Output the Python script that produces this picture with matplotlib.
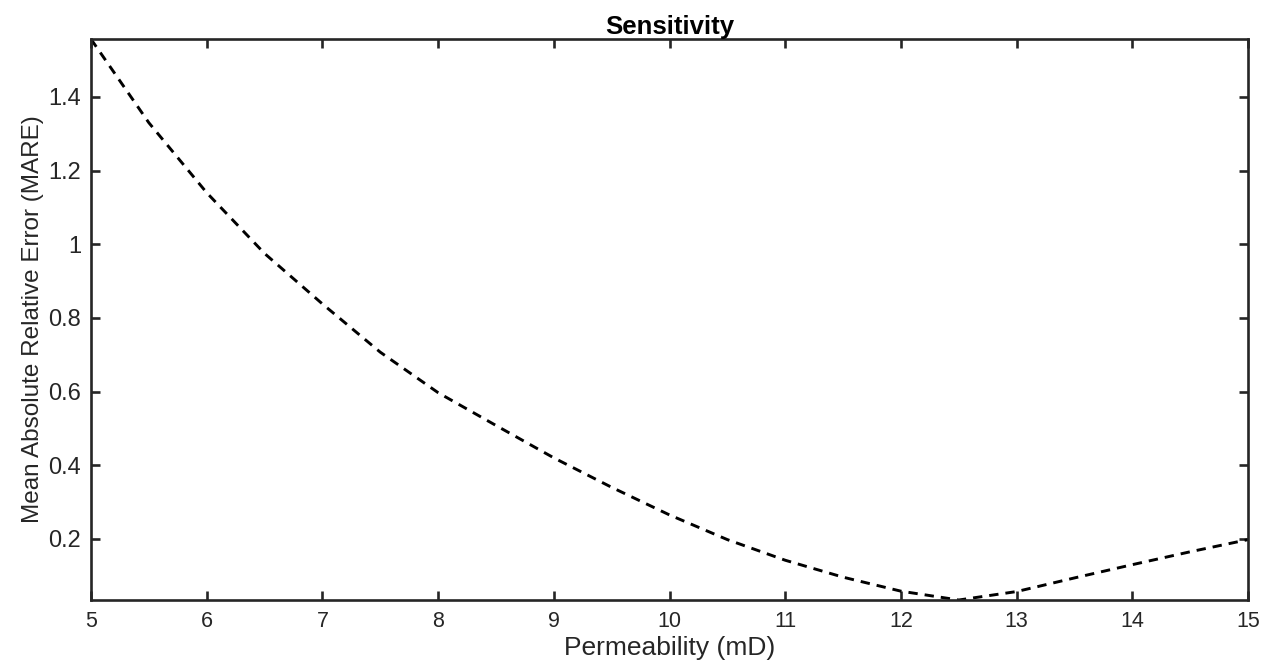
import matplotlib.pyplot as plt

# Permeability sweep and the resulting MARE
permeability = [5.0, 5.5, 6.0, 6.5, 7.0, 7.5, 8.0, 8.5, 9.0, 9.5, 10.0,
                10.5, 11.0, 11.5, 12.0, 12.5, 13.0, 13.5, 14.0, 14.5, 15.0]
mare = [1.557, 1.330, 1.140, 0.975, 0.838, 0.707, 0.597, 0.508, 0.420, 0.340, 0.265,
        0.198, 0.142, 0.096, 0.058, 0.034, 0.057, 0.094, 0.130, 0.165, 0.198]

plt.rcParams['font.family'] = ['Liberation Sans', 'DejaVu Sans']

fig = plt.figure(figsize=(12.69, 6.63), dpi=100)
ax = fig.add_axes([0.0717, 0.095, 0.9118, 0.846])

ax.plot(permeability, mare, color='black', linestyle=(0, (3.2, 2.4)), linewidth=2.1)

ax.set_xlim(5, 15)
ax.set_ylim(min(mare), max(mare))
ax.set_xticks(range(5, 16))
ax.set_yticks([0.2, 0.4, 0.6, 0.8, 1.0, 1.2, 1.4])
ax.set_yticklabels(['0.2', '0.4', '0.6', '0.8', '1', '1.2', '1.4'])

grey = '#262626'
for s in ax.spines.values():
    s.set_color(grey)
    s.set_linewidth(1.9)
ax.tick_params(direction='in', length=6.5, width=1.9, color=grey,
               labelcolor=grey, top=True, right=True)
ax.tick_params(axis='x', labelsize=15.5, pad=8)
ax.tick_params(axis='y', labelsize=17, pad=7)

ax.set_xlabel('Permeability (mD)', fontsize=19, color=grey, labelpad=3)
ax.set_ylabel('Mean Absolute Relative Error (MARE)', fontsize=17.5, color=grey, labelpad=3)
ax.set_title('Sensitivity', fontsize=18.5, fontweight='bold', pad=4)

fig.savefig('out.png', dpi=100)
